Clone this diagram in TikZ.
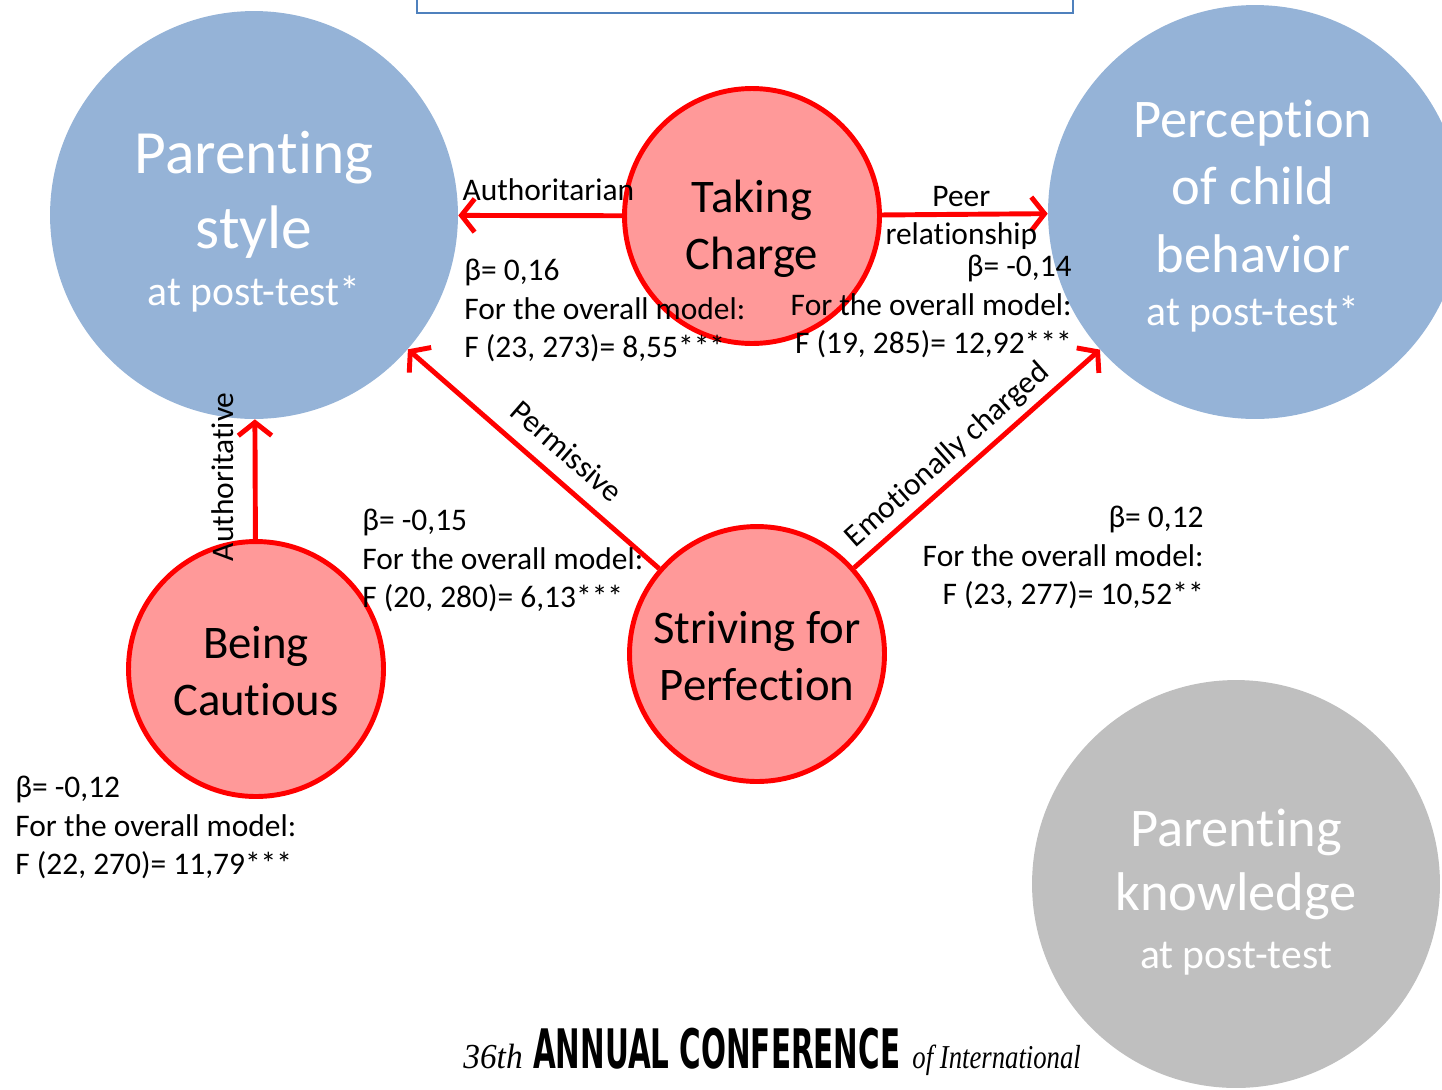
\documentclass[tikz,border=0pt]{standalone}
\usepackage{fontspec}
\setmainfont{Carlito}[Ligatures=CommonOff]
\newfontfamily\condfont{DejaVu Sans Condensed}
\newfontfamily\handfont{Liberation Serif}
\usetikzlibrary{arrows, arrows.meta}
\definecolor{outblue}{HTML}{95B3D7}
\definecolor{knowgray}{HTML}{BFBFBF}
\definecolor{dimpink}{HTML}{FF9999}
\definecolor{boxblue}{HTML}{4F81BD}
\newcommand\posttestfont{\fontsize{23.7}{28}\selectfont}
\tikzset{
	outcome/.style={circle, fill=outblue, inner sep=0pt, minimum size=8.16cm},
	dimension/.style={circle, draw=red, line width=2.8pt, fill=dimpink, inner sep=0pt, minimum size=5.1cm},
	outtext/.style={text=white, align=center, inner sep=0pt},
	dimtext/.style={align=center, inner sep=0pt, font=\fontsize{26.6}{32.3}\selectfont},
	effect/.style={red, line width=2.8pt, -{Straight Barb[length=7.5pt,width=19pt]}},
	lbl/.style={text=black, font=\fontsize{17.9}{21.9}\selectfont},
	stat/.style={lbl, inner sep=0pt},
}
\begin{document}
\begin{tikzpicture}[x=0.02cm, y=-0.02cm]
	\clip (0,0) rectangle (1442,1089);									%page
	\draw[boxblue, line width=1.2pt, fill=white] (417,-20) rectangle (1073,13);	%top box
	\node[outcome] (ps) at (254,215) {};								%outcomes
	\node[outcome, minimum size=8.28cm] (pcb) at (1255,212) {};
	\node[outcome, fill=knowgray] (pk) at (1236,884) {};
	\node[dimension] (tc) at (752,216) {};								%dimensions
	\node[dimension] (bc) at (256,669) {};
	\node[dimension] (sp) at (757,654) {};
	\node[outtext, font=\fontsize{35}{42.5}\selectfont] (ps-t) at (254,222) {Parenting\\style\\[-10pt]{\posttestfont at post-test*}};
	\node[outtext, font=\fontsize{31}{38.3}\selectfont] (pcb-t) at (1253,216) {Perception\\of child\\behavior\\[-8pt]{\posttestfont at post-test*}};
	\node[outtext, font=\fontsize{31}{36.8}\selectfont] (pk-t) at (1236,892) {Parenting\\knowledge\\[-4pt]{\posttestfont at post-test}};
	\node[dimtext] (tc-t) at (752,229) {Taking\\Charge};
	\node[dimtext] (bc-t) at (256,671) {Being\\Cautious};
	\node[dimtext] (sp-t) at (757,656) {Striving for\\Perfection};
	\draw[effect] (tc) -- node[lbl, pos=0.45, above=4pt] {Authoritarian} (ps);
	\draw[effect] (tc) -- node[lbl, align=center, yshift=-2pt, xshift=-2pt] {Peer\\relationship} (pcb);
	\draw[effect] (sp) -- node[lbl, pos=0.44, sloped, above=5pt] {Permissive} (ps);
	\draw[effect] (sp) -- node[lbl, pos=0.44, sloped, above] {Emotionally charged} (pcb);
	\draw[effect] (bc) -- node[lbl, pos=0.52, rotate=90, anchor=south, inner sep=11pt] {Authoritative} (ps);
	\node[stat, anchor=north west, align=left] (s1) at (464,259) {β= 0,16\\For the overall model:\\F (23, 273)= 8,55***};
	\node[stat, anchor=north east, align=right] (s2) at (1072,255) {β= -0,14\\For the overall model:\\F (19, 285)= 12,92***};
	\node[stat, anchor=north west, align=left] (s3) at (362,509) {β= -0,15\\For the overall model:\\F (20, 280)= 6,13***};
	\node[stat, anchor=north east, align=right] (s4) at (1204,506) {β= 0,12\\For the overall model:\\F (23, 277)= 10,52**};
	\node[stat, anchor=north west, align=left] (s5) at (15,776) {β= -0,12\\For the overall model:\\F (22, 270)= 11,79***};
	\node[anchor=base west, inner sep=0pt] (conf) at (463,1068) {\scalebox{0.95}[1]{\handfont\itshape\fontsize{20}{20}\selectfont 36th}\hspace{6pt}\scalebox{0.6}[1]{\condfont\bfseries\fontsize{31}{31}\selectfont ANNUAL CONFERENCE}\hspace{7pt}\scalebox{0.8}[1]{\handfont\itshape\fontsize{19}{19}\selectfont of International}};
\end{tikzpicture}
\end{document}
